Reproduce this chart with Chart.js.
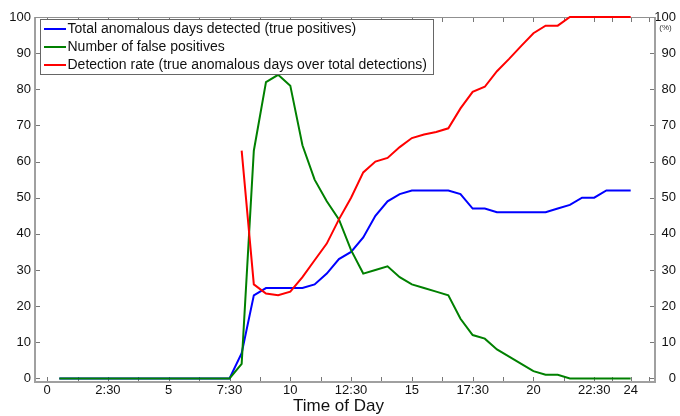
<!DOCTYPE html>
<html><head><meta charset="utf-8">
<script src="https://cdn.jsdelivr.net/npm/chart.js@4.4.1/dist/chart.umd.min.js"></script>
<style>html,body{margin:0;padding:0;background:#fff;}#wrap{width:680px;height:416px;}</style>
</head><body><div id="wrap"><canvas id="c" width="680" height="416"></canvas></div>
<script>
const hours = [0.5,1,1.5,2,2.5,3,3.5,4,4.5,5,5.5,6,6.5,7,7.5,8,8.5,9,9.5,10,10.5,11,11.5,12,12.5,13,13.5,14,14.5,15,15.5,16,16.5,17,17.5,18,18.5,19,19.5,20,20.5,21,21.5,22,22.5,23,23.5,24];
const truePositives = [0,0,0,0,0,0,0,0,0,0,0,0,0,0,0,7,23,25,25,25,25,26,29,33,35,39,45,49,51,52,52,52,52,51,47,47,46,46,46,46,46,47,48,50,50,52,52,52];
const falsePositives = [0,0,0,0,0,0,0,0,0,0,0,0,0,0,0,4,63,82,84,81,64.5,55,49,44,35.5,29,30,31,28,26,25,24,23,16.5,12,11,8,6,4,2,1,1,0,0,0,0,0,0];
const detectionRate = [null,null,null,null,null,null,null,null,null,null,null,null,null,null,null,63,26,23.5,23,24,28,32.7,37.3,44,50,57,60,61,64,66.5,67.5,68.2,69.2,74.7,79.3,80.7,85,88.4,92,95.5,97.6,97.6,100,100,100,100,100,100];
const seriesNames = ['Total anomalous days detected (true positives)','Number of false positives','Detection rate (true anomalous days over total detections)'];
const seriesColors = ['#0000ff','#008000','#ff0000'];
const xMajorTicks = [0,2.5,5,7.5,10,12.5,15,17.5,20,22.5,24];
const xMajorLabels = ['0','2:30','5','7:30','10','12:30','15','17:30','20','22:30','24'];
const xMinorTicks = [1.25,3.75,6.25,8.75,11.25,13.75,16.25,18.75,21.25,23.25,24.75];
const yTicks = [0,10,20,30,40,50,60,70,80,90,100];
const xTitle = 'Time of Day';
const rightUnit = '(%)';

const FONT = "'Liberation Sans', Arial, Helvetica, sans-serif";
const TXT = '#111';

function pts(vals){ return hours.map((h,i)=>({x:h, y:vals[i]})); }

const framePlugin = {
  id: 'frame',
  beforeDatasetsDraw(chart){
    const {ctx, chartArea:a, scales} = chart;
    ctx.save();
    ctx.strokeStyle = '#777'; ctx.lineWidth = 1;
    ctx.beginPath();
    scales.x.ticks.forEach(t=>{
      const px = Math.round(scales.x.getPixelForValue(t.value)) + 0.5;
      ctx.moveTo(px, a.bottom); ctx.lineTo(px, a.bottom-5);
      ctx.moveTo(px, a.top); ctx.lineTo(px, a.top+5);
    });
    scales.y.ticks.forEach(t=>{
      const py = Math.round(scales.y.getPixelForValue(t.value)) + 0.5;
      ctx.moveTo(a.left, py); ctx.lineTo(a.left+5, py);
    });
    scales.y2.ticks.forEach(t=>{
      const py = Math.round(scales.y2.getPixelForValue(t.value)) + 0.5;
      ctx.moveTo(a.right, py); ctx.lineTo(a.right-5, py);
    });
    ctx.stroke();
    ctx.strokeStyle = '#a0a0a0'; ctx.lineWidth = 2;
    ctx.beginPath();
    ctx.moveTo(a.left, a.top); ctx.lineTo(a.left, a.bottom+1);
    ctx.moveTo(a.left-1, a.bottom); ctx.lineTo(a.right+1, a.bottom);
    ctx.moveTo(a.right, a.top); ctx.lineTo(a.right, a.bottom+1);
    ctx.stroke();
    ctx.strokeStyle = '#909090'; ctx.lineWidth = 1;
    ctx.beginPath();
    ctx.moveTo(a.left, a.top+0.5); ctx.lineTo(a.right, a.top+0.5);
    ctx.stroke();
    ctx.restore();
  },
  afterDatasetsDraw(chart){
    const {ctx, chartArea:a} = chart;
    ctx.save();
    const bx = a.left + 5.5, by = a.top + 2.5, bw = 393, bh = 55;
    ctx.fillStyle = '#fff';
    ctx.fillRect(bx, by, bw, bh);
    ctx.strokeStyle = '#666'; ctx.lineWidth = 1;
    ctx.strokeRect(bx, by, bw, bh);
    ctx.font = '14px ' + FONT;
    ctx.textBaseline = 'middle'; ctx.textAlign = 'left';
    seriesNames.forEach((name,i)=>{
      const yy = by + 9.5 + i*18;
      ctx.strokeStyle = seriesColors[i]; ctx.lineWidth = 2;
      ctx.beginPath(); ctx.moveTo(bx+3.5, yy); ctx.lineTo(bx+25.5, yy); ctx.stroke();
      ctx.fillStyle = TXT;
      ctx.fillText(name, bx+27, yy+0.5);
    });
    ctx.font = '17px ' + FONT;
    ctx.textAlign = 'center'; ctx.textBaseline = 'alphabetic';
    ctx.fillStyle = TXT;
    ctx.fillText(xTitle, 338.5, 411);
    ctx.font = '8px ' + FONT;
    ctx.fillStyle = '#333';
    ctx.textAlign = 'center';
    ctx.fillText(rightUnit, 665.5, 30);
    ctx.restore();
  }
};

const yScaleCommon = {
  type: 'linear', min: -1, max: 100,
  afterBuildTicks: s => { s.ticks = yTicks.map(v=>({value:v})); },
  grid: {display:false, drawTicks:false, tickLength:0},
  border: {display:false},
};

new Chart(document.getElementById('c'), {
  type: 'line',
  data: {
    datasets: [
      {label: seriesNames[0], data: pts(truePositives), borderColor: seriesColors[0], order: 3},
      {label: seriesNames[1], data: pts(falsePositives), borderColor: seriesColors[1], order: 2},
      {label: seriesNames[2], data: pts(detectionRate), borderColor: seriesColors[2], order: 1, yAxisID: 'y2'}
    ].map(d=>Object.assign({borderWidth:2, pointRadius:0, tension:0, fill:false, spanGaps:false, clip:false, yAxisID:'y'}, d))
  },
  options: {
    responsive: false, animation: false, devicePixelRatio: 1,
    layout: {padding: {top:17, right:4, left:0, bottom:0}},
    plugins: {legend:{display:false}, tooltip:{enabled:false}},
    scales: {
      x: {
        type: 'linear', min: -0.5, max: 25, position: 'bottom',
        afterBuildTicks: s => { s.ticks = xMajorTicks.concat(xMinorTicks).sort((p,q)=>p-q).map(v=>({value:v})); },
        afterFit: s => { s.height = 34; },
        grid: {display:false, drawTicks:false, tickLength:0},
        border: {display:false},
        ticks: {autoSkip:false, maxRotation:0, padding:1, color:TXT, font:{family:FONT, size:13},
          callback: v => { const k = xMajorTicks.indexOf(v); return k>=0 ? xMajorLabels[k] : ''; }}
      },
      y: Object.assign({}, yScaleCommon, {
        position: 'left',
        afterFit: s => { s.width = 35; },
        ticks: {padding:4, color:TXT, font:{family:FONT, size:13}}
      }),
      y2: Object.assign({}, yScaleCommon, {
        position: 'right',
        afterFit: s => { s.width = 21; },
        ticks: {padding:4, crossAlign:'far', color:TXT, font:{family:FONT, size:13}}
      })
    }
  },
  plugins: [framePlugin]
});
</script></body></html>
